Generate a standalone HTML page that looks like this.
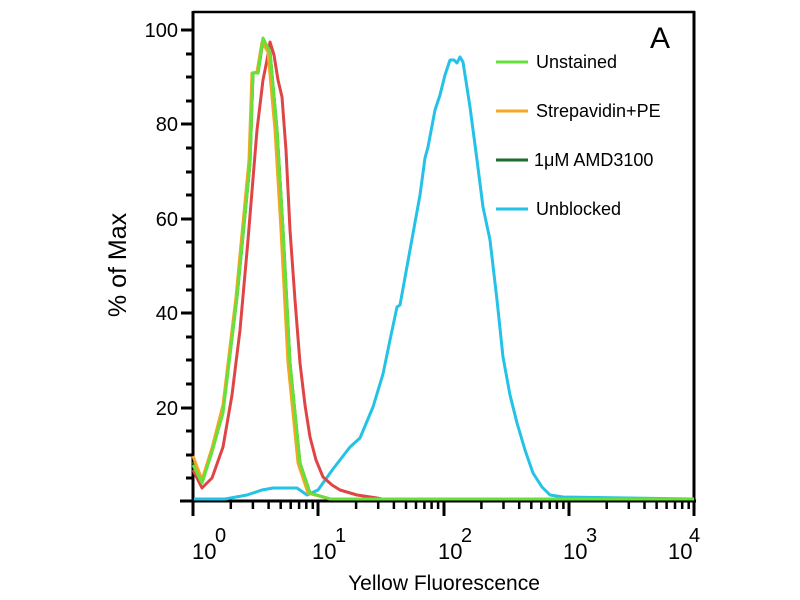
<!DOCTYPE html>
<html><head><meta charset="utf-8"><style>
html,body{margin:0;padding:0;background:#fff;}
svg{display:block;font-family:"Liberation Sans",sans-serif;}
</style></head><body>
<svg width="800" height="600" viewBox="0 0 800 600" xmlns="http://www.w3.org/2000/svg">
<rect width="800" height="600" fill="#fff"/>
<line x1="193" y1="12" x2="695" y2="12" stroke="#000" stroke-width="2.5"/>
<line x1="694" y1="11" x2="694" y2="502" stroke="#000" stroke-width="3"/>
<line x1="193" y1="11" x2="193" y2="502" stroke="#000" stroke-width="3"/>
<line x1="180" y1="501" x2="696" y2="501" stroke="#000" stroke-width="3"/>
<g stroke="#000" stroke-width="3">
<line x1="181" y1="30" x2="193" y2="30"/><line x1="181" y1="124" x2="193" y2="124"/>
<line x1="181" y1="219" x2="193" y2="219"/><line x1="181" y1="313" x2="193" y2="313"/>
<line x1="181" y1="408" x2="193" y2="408"/>
<line x1="186" y1="54" x2="193" y2="54"/><line x1="186" y1="77" x2="193" y2="77"/><line x1="186" y1="101" x2="193" y2="101"/>
<line x1="186" y1="148" x2="193" y2="148"/><line x1="186" y1="172" x2="193" y2="172"/><line x1="186" y1="195" x2="193" y2="195"/>
<line x1="186" y1="242" x2="193" y2="242"/><line x1="186" y1="266" x2="193" y2="266"/><line x1="186" y1="290" x2="193" y2="290"/>
<line x1="186" y1="337" x2="193" y2="337"/><line x1="186" y1="360" x2="193" y2="360"/><line x1="186" y1="384" x2="193" y2="384"/>
<line x1="186" y1="431" x2="193" y2="431"/><line x1="186" y1="455" x2="193" y2="455"/><line x1="186" y1="478" x2="193" y2="478"/>
</g>
<g font-size="20" text-anchor="end" fill="#000">
<text x="178" y="37">100</text><text x="178" y="131">80</text><text x="178" y="226">60</text>
<text x="178" y="320">40</text><text x="178" y="415">20</text>
</g>
<g stroke="#000" stroke-width="3">
<line x1="193" y1="501" x2="193" y2="516"/><line x1="318" y1="501" x2="318" y2="516"/>
<line x1="444" y1="501" x2="444" y2="516"/><line x1="569" y1="501" x2="569" y2="516"/>
<line x1="694" y1="501" x2="694" y2="516"/>
</g>
<g stroke="#000" stroke-width="2.5">
<g id="m0">
<line x1="230.8" y1="501" x2="230.8" y2="509"/><line x1="252.9" y1="501" x2="252.9" y2="509"/>
<line x1="268.6" y1="501" x2="268.6" y2="509"/><line x1="280.7" y1="501" x2="280.7" y2="509"/>
<line x1="290.7" y1="501" x2="290.7" y2="509"/><line x1="299.1" y1="501" x2="299.1" y2="509"/>
<line x1="306.3" y1="501" x2="306.3" y2="509"/><line x1="312.8" y1="501" x2="312.8" y2="509"/>
</g>
<use href="#m0" x="125.3"/><use href="#m0" x="250.6"/><use href="#m0" x="375.9"/>
</g>
<g font-size="22" fill="#000">
<text x="192" y="559">10</text><text x="215" y="542" font-size="20">0</text>
<text x="312" y="559">10</text><text x="335" y="542" font-size="20">1</text>
<text x="438" y="559">10</text><text x="461" y="542" font-size="20">2</text>
<text x="563" y="559">10</text><text x="586" y="542" font-size="20">3</text>
<text x="668" y="559">10</text><text x="689" y="542" font-size="20">4</text>
</g>
<text x="444" y="590" font-size="21" text-anchor="middle">Yellow Fluorescence</text>
<text transform="translate(126,265) rotate(-90)" font-size="25" text-anchor="middle">% of Max</text>
<text x="650" y="48" font-size="30">A</text>
<g fill="none" stroke-width="3" stroke-linejoin="round">
<polyline stroke="#23c2e6" points="194,499 225,499 247,495 262,490 273,488 297,488 307,495 318,490 333,469 350,447 360,438 373,407 383,374 390,340 397,307 400,305 410,250 420,195 425,158 428,147 435,110 440,95 445,75 450,60 454,60 457,63 460,57 463,62 470,107 477,160 483,207 490,240 497,300 503,357 510,395 517,423 525,450 533,473 542,487 550,495 563,497 694,499"/>
<polyline stroke="#e04545" points="193,470 202,488 212,478 223,447 232,395 240,330 248,240 257,130 263,80 267,60 270,42 274,55 278,80 282,97 286,150 290,230 295,300 300,363 305,405 310,437 316,460 323,477 332,485 340,490 357,495 377,498 382,499"/>
<polyline stroke="#1f6b2a" points="193,462 202,482 212,450 223,410 237,297 250,163 253,73 258,73 263,40 270,52 277,130 283,230 290,363 300,463 310,493 330,499"/>
<polyline stroke="#f5a623" points="193,456 202,480 212,448 223,405 236,297 249,160 252,73 257,72 262,42 268,52 275,130 281,230 288,363 298,463 308,493 330,499"/>
<polyline stroke="#66e03a" points="193,465 202,483 212,452 223,413 237,297 250,163 253,73 258,73 263,38 270,52 277,130 283,230 290,363 300,463 310,493 330,499 694,499"/>
</g>
<g stroke-width="3">
<line x1="496" y1="62" x2="528" y2="62" stroke="#66e03a"/>
<line x1="496" y1="111" x2="528" y2="111" stroke="#f5a623"/>
<line x1="496" y1="160" x2="528" y2="160" stroke="#1f6b2a"/>
<line x1="496" y1="209" x2="528" y2="209" stroke="#23c2e6"/>
</g>
<g font-size="18" fill="#000">
<text x="536" y="68">Unstained</text>
<text x="536" y="117">Strepavidin+PE</text>
<text x="534" y="166">1μM AMD3100</text>
<text x="536" y="215">Unblocked</text>
</g>
</svg>
</body></html>
